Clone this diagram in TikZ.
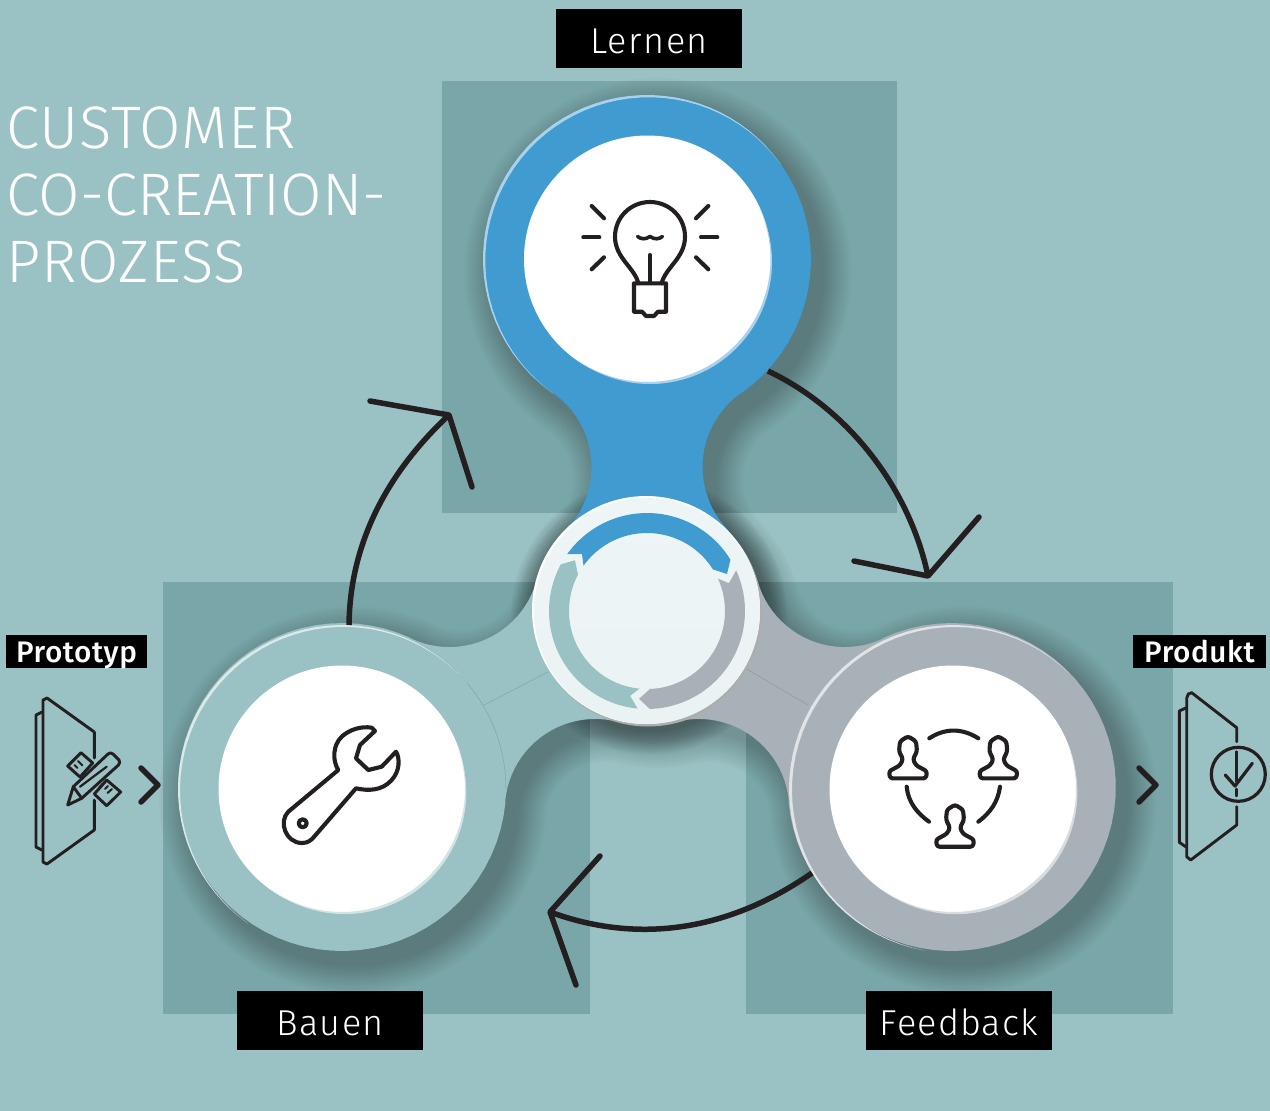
\documentclass[tikz,border=0pt]{standalone}
\usepackage{fontspec}
\setmainfont{Fira Sans}
\newfontfamily\thinf[UprightFont={* Light},LetterSpace=1.5]{Fira Sans}
\newfontfamily\thing[UprightFont={* Light},LetterSpace=0]{Fira Sans}
\newfontfamily\labf[UprightFont={* Light},LetterSpace=4]{Fira Sans}
\newfontfamily\labg[UprightFont={* Light},LetterSpace=3.2]{Fira Sans}
\newfontfamily\medf[UprightFont={* Medium},LetterSpace=2]{Fira Sans}
\usetikzlibrary{calc}
\definecolor{bgc}{HTML}{9AC1C3}
\definecolor{darkc}{HTML}{79A7A9}
\definecolor{bluec}{HTML}{3F9BD0}
\definecolor{greyc}{HTML}{A9B1B8}
\definecolor{inkc}{HTML}{231F20}
\definecolor{hubc}{HTML}{EEF5F6}
\tikzset{
  panel/.style={fill=darkc,draw=none},
  ink/.style={draw=inkc,line width=4.1pt,line cap=round,line join=round},
  thinink/.style={draw=inkc,line width=2.9pt,line cap=round,line join=round},
  cyc/.style={draw=inkc,line width=5.5pt,line cap=round,line join=round},
  tag/.style={fill=black,text=white,inner sep=0pt,minimum width=186pt,minimum height=59pt,text height=44pt,text depth=15pt,font=\labf\fontsize{36}{36}\selectfont},
  smalltag/.style={fill=black,text=white,inner sep=0pt,minimum height=33pt,text height=27pt,text depth=6pt,font=\medf\fontsize{29.7}{30}\selectfont},
  titletext/.style={text=white,inner sep=0pt,anchor=base west,font=\thinf\fontsize{60}{60}\selectfont},
  seam/.style={draw=black,draw opacity=.15,line width=.5pt},
}
% silhouette of one arm, rotated clockwise by #1 degrees about the hub
\newcommand{\rx}[3]{647+(#2)*cos(#1)-(#3)*sin(#1)}
\newcommand{\ry}[3]{611+(#2)*sin(#1)+(#3)*cos(#1)}
\newcommand{\silh}[1]{
  -- plot[domain=44.6:-54.9,samples=24] ({\rx{#1}{-146+90.5*cos(\x)}{-144+90.5*sin(\x)}},{\ry{#1}{-146+90.5*cos(\x)}{-144+90.5*sin(\x)}})
  -- plot[domain=125.1:414.9,samples=60] ({\rx{#1}{164*cos(\x)}{-352+164*sin(\x)}},{\ry{#1}{164*cos(\x)}{-352+164*sin(\x)}})
  -- plot[domain=234.9:135.4,samples=24] ({\rx{#1}{146+90.5*cos(\x)}{-144+90.5*sin(\x)}},{\ry{#1}{146+90.5*cos(\x)}{-144+90.5*sin(\x)}})
  -- plot[domain=-44.6:-15.4,samples=8] ({\rx{#1}{114*cos(\x)}{114*sin(\x)}},{\ry{#1}{114*cos(\x)}{114*sin(\x)}})
}
\newcommand{\armfill}[2]{
  \fill[#2] (647,611) \silh{#1} -- cycle;
}
% tapered rim: cx, cy, r, from angle, to angle, thickness, colour
\newcommand{\lune}[7]{
  \fill[#7] plot[domain=#4:#5,samples=50] ({#1+(#3)*cos(\x)},{#2+(#3)*sin(\x)})
    -- plot[domain=#5:#4,samples=50] ({#1+(#3+(#6)*sin((\x-(#4))/(#5-(#4))*180))*cos(\x)},{#2+(#3+(#6)*sin((\x-(#4))/(#5-(#4))*180))*sin(\x)}) -- cycle;
}
\newcommand{\ringarrow}[2]{
  \begin{scope}[shift={(647,611)},rotate=#1]
  \fill[#2] plot[domain=215.5:328.4,samples=40] ({98*cos(\x)},{98*sin(\x)})
     -- (80,-37) -- plot[domain=327.8:215.5,samples=40] ({78*cos(\x)},{78*sin(\x)})
     -- (-65,-57) -- cycle;
  \end{scope}
}
\newcommand{\person}[2]{
  \draw[ink,rounded corners=2.5pt,shift={(#1,#2)}] (-18,0) -- (-19,-7) -- (-8,-13) -- (-5,-19) -- (-9,-27) -- (-8,-37) -- (0,-42) -- (8,-37) -- (9,-27) -- (5,-19) -- (8,-13) -- (19,-7) -- (18,0) -- cycle;
}
\begin{document}
\begin{tikzpicture}[x=1pt,y=-1pt]
\useasboundingbox (0,0) rectangle (1270,1111);
\fill[bgc] (0,0) rectangle (1270,1111);
\fill[panel] (442,81) rectangle (897,513);
\fill[panel] (163,582) rectangle (590,1014);
\fill[panel] (746,582) rectangle (1173,1014);

% soft shadow of the whole spinner
\foreach \k in {1,...,15}{
  \begin{scope}[shift={(11,13)},transparency group,opacity=.015]
  \filldraw[black,line width=4*\k pt,line join=round] (565.8,530.9) \silh{0} \silh{120} \silh{240} -- cycle;
  \end{scope}
}
% extra shadow round the hub
\foreach \k in {1,...,12}{
  \fill[black,opacity=.03] (649,616) circle ({114+2*\k});
}

% arms
\armfill{0}{bluec}
\armfill{240}{bgc}
\armfill{120}{greyc}
\draw[seam] (484,705) -- (548,672);
\draw[seam] (745,668) -- (808,705);
\draw[seam] plot[domain=-62:0,samples=20] ({342+164*cos(\x)},{789+164*sin(\x)});

% big rims
\lune{647}{259}{164}{125}{325}{-3}{bluec!45!white}
\lune{342}{789}{164}{125}{320}{-2.6}{bgc!35!white}
\lune{953}{789}{164}{100}{315}{-3.2}{greyc!35!white}

% white discs
\fill[white] (647.5,259) circle (123.5pt);
\lune{647.5}{259}{123}{-25}{125}{3}{bluec!45!white}
\fill[white] (342,789) circle (123.5pt);
\lune{342}{789}{123}{-20}{125}{3}{bgc!45!white}
\fill[white] (953,789) circle (123.5pt);
\lune{953}{789}{123}{-20}{125}{3.2}{greyc!45!white}

% hub
\fill[black!32!white] (648,612.5) circle (114pt);
\fill[white] (646,610) circle (114pt);
\shade[top color=hubc,bottom color=hubc!95!bgc] (647,611) circle (113pt);
\ringarrow{0}{bluec}
\ringarrow{120}{bgc}
\ringarrow{-120}{greyc}

% bulb
\draw[ink] (638.3,283.3) .. controls (635,268) and (615,258) .. (615,236.7) .. controls (615,217) and (631,202) .. (650,202) .. controls (669,202) and (685,217) .. (685,236.7) .. controls (685,258) and (665,268) .. (661.7,283.3);
\draw[ink] (634,283.3) -- (666,283.3) -- (666,311.7) -- (658,311.7) -- (654,316) -- (646,316) -- (642,311.7) -- (634,311.7) -- cycle;
\draw[ink] (650,255) -- (650,283);
\draw[ink,line width=3.6pt] (637.5,236.5) .. controls (641,239) and (645,240) .. (650,236.5) .. controls (655,240) and (659,239) .. (662.5,236.5);
\draw[ink] (591.7,206) -- (604,218.3);
\draw[ink] (583.3,237.3) -- (599.3,237.3);
\draw[ink] (591.7,269.3) -- (604,257.3);
\draw[ink] (696,218.3) -- (708.3,206);
\draw[ink] (701,237.3) -- (717.3,237.3);
\draw[ink] (696,257.3) -- (708.3,269.3);

% wrench
\draw[ink] (338.3,770) -- (288.3,811.7) .. controls (278,822) and (286,843) .. (302,843) .. controls (308,843) and (311,840) .. (313,838) -- (356,788.3) .. controls (368,791) and (382,791) .. (391.7,780) .. controls (400,771) and (400,758) .. (396,751.7) -- (381.7,766.7) -- (368.3,770) -- (356,758.3) -- (360,745) -- (375,731) -- (371.7,727.7) .. controls (362,726) and (350,729) .. (341.7,736.7) .. controls (333,745) and (332,760) .. (338.3,770) -- cycle;
\draw[ink] (302.7,823.3) circle (4pt);

% people
\person{908}{778.3}
\person{998.3}{778.3}
\person{955}{846.7}
\draw[ink] (929.3,738.3) .. controls (945,728) and (962,728) .. (978.3,738.3);
\draw[ink] (906.7,786.7) .. controls (908,802) and (917,813) .. (929,821.7);
\draw[ink] (1000,786.7) .. controls (998,802) and (990,813) .. (978.3,821.7);

% cycle arrows
\coordinate (a1) at (349,625); \coordinate (a1t) at (449,415); \coordinate (a1l) at (370,401); \coordinate (a1r) at (472,487);
\coordinate (a2) at (768,371); \coordinate (a2t) at (928,576); \coordinate (a2l) at (854,561); \coordinate (a2r) at (979,517);
\coordinate (a3) at (812,873); \coordinate (a3t) at (550,912); \coordinate (a3l) at (600,856); \coordinate (a3r) at (576,985);
\draw[cyc,line cap=butt] (a1) .. controls (350,540) and (390,470) .. (a1t);
\draw[cyc] (a1l) -- (a1t) -- (a1r);
\draw[cyc,line cap=butt] (a2) .. controls (850,410) and (910,490) .. (a2t);
\draw[cyc] (a2l) -- (a2t) -- (a2r);
\draw[cyc,line cap=butt] (a3) .. controls (730,930) and (640,945) .. (a3t);
\draw[cyc] (a3l) -- (a3t) -- (a3r);

% side chevrons
\draw[cyc] (141,768) -- (158,785) -- (141,802);
\draw[cyc] (1139,768) -- (1156,785) -- (1139,802);

% prototype door
\draw[thinink] (94.3,758) -- (94.3,732) -- (47,698) -- (43,700) -- (43,862) -- (47,864) -- (94.3,830) -- (94.3,800);
\draw[thinink] (42,712) -- (36,715) -- (36,847) -- (42,850);
\draw[thinink] (81,752.7) -- (92.7,763) -- (80,777) -- (67.7,766) -- cycle;
\draw[thinink] (106.7,780) -- (120.7,792) -- (106.7,805.7) -- (94.3,794) -- cycle;
\draw[thinink,line width=2pt] (78,761) -- (82.5,765.5) (74.5,765) -- (77.5,768) (71,769) -- (75.5,773.5);
\draw[thinink,line width=2pt] (112,789) -- (107.5,793) (108,786) -- (105,789) (103,783.5) -- (99,787.5);
\fill[bgc] (67.7,805) -- (73.3,786.7) -- (110,752.7) -- (120,763.3) -- (81.7,798.3) -- cycle;
\draw[thinink] (67.7,805) -- (73.3,786.7) -- (108,754) .. controls (110,752.5) and (111,752.5) .. (113,754) -- (119,760) .. controls (120,762) and (120,763) .. (118.5,765) -- (81.7,798.3) -- cycle;
\draw[thinink] (73.3,786.7) -- (81.7,798.3);
\draw[thinink,line width=2.2pt] (80,786.7) -- (106.7,766.7);

% product door
\draw[thinink] (1236.7,741.7) -- (1236.7,727.7) -- (1191.7,692.7) -- (1188.3,694) -- (1186.7,698) -- (1186.7,856.7) -- (1190.7,860) -- (1236.7,825) -- (1236.7,806.7);
\draw[thinink] (1185.7,708) -- (1179.3,711) -- (1179.3,842.3) -- (1185.7,846.7);
\draw[thinink] (1236.7,751.7) -- (1236.7,781.7);
\draw[thinink] (1236.7,789) -- (1236.7,796);
\draw[thinink,line width=3.2pt] (1238.3,774.3) circle (27pt);
\draw[thinink,line width=3.2pt] (1225.3,775) -- (1235,786) -- (1252.3,763.3);

% labels
\node[tag] (lernen) at (649,38.5) {Lernen};
\node[tag] (bauen) at (330,1020.5) {Bauen};
\node[tag,font=\labg\fontsize{36}{36}\selectfont] (feedback) at (959,1020.5) {Feedback};
\node[smalltag,minimum width=141pt] (prototyp) at (76.5,651.5) {Prototyp};
\node[smalltag,minimum width=133pt] (produkt) at (1199.5,651.5) {Produkt};
\node[titletext] (t1) at (6.5,148) {CUSTOMER};
\node[titletext,font=\thing\fontsize{60}{60}\selectfont] (t2) at (6.5,215) {CO-CREATION-};
\node[titletext] (t3) at (6.5,282) {PROZESS};
\end{tikzpicture}
\end{document}
